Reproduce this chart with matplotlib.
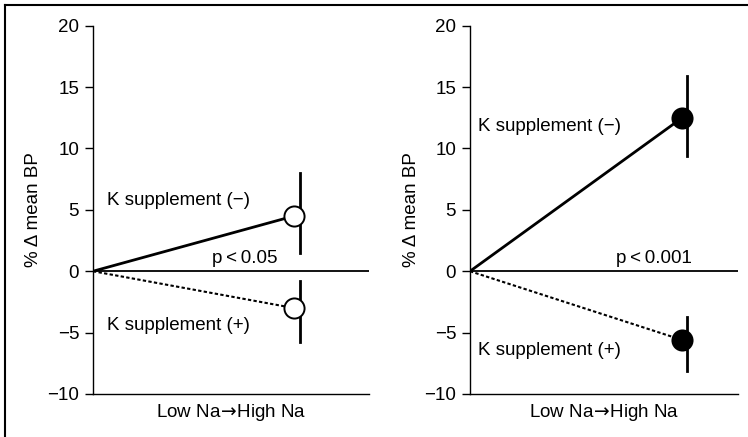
import matplotlib
matplotlib.use("Agg")
import matplotlib.pyplot as plt
from matplotlib.lines import Line2D

plt.rcParams['font.family'] = ['Liberation Sans', 'DejaVu Sans']
plt.rcParams['mathtext.fontset'] = 'dejavusans'

# Data
x_points = [0, 1]  # Low Na -> High Na
yticks = [-10, -5, 0, 5, 10, 15, 20]

# Left panel (open circles)
left_minus = [0, 4.5]
left_minus_err = (1.45, 8.0)   # lower, upper ends of bar
left_plus = [0, -3.0]
left_plus_err = (-5.8, -0.8)
left_p = "p\u2009<\u20090.05"

# Right panel (filled circles)
right_minus = [0, 12.5]
right_minus_err = (9.4, 15.9)
right_plus = [0, -5.6]
right_plus_err = (-8.1, -3.7)
right_p = "p\u2009<\u20090.001"

label_minus = "K supplement (\u2212)"
label_plus = "K supplement (+)"
xlabel = r"Low Na$\!\rightarrow\!$High Na"
ylabel = "% \u0394 mean BP"

W, H = 748, 437
fig = plt.figure(figsize=(W / 100, H / 100), dpi=100)

FS = 13.5


def panel(rect, xmax, minus, minus_err, plus, plus_err, face, ptext, ptx,
          tx, ty_minus, ty_plus, ebx, ylab_x):
    ax = fig.add_axes(rect)
    ax.set_xlim(0, xmax)
    ax.set_ylim(-10, 20)
    ax.set_yticks(yticks)
    ax.set_xticks([])
    for s in ['top', 'right']:
        ax.spines[s].set_visible(False)
    for s in ['left', 'bottom']:
        ax.spines[s].set_linewidth(1.0)
    ax.tick_params(axis='y', direction='out', length=6, width=1.0,
                   labelsize=FS, pad=4)
    ax.axhline(0, color='black', lw=1.3, zorder=1)
    # error bars (slightly right of markers)
    ax.plot([x_points[1] + ebx] * 2, list(minus_err), color='black', lw=2.0, zorder=2)
    ax.plot([x_points[1] + ebx] * 2, list(plus_err), color='black', lw=2.0, zorder=2)
    ax.plot(x_points, minus, color='black', lw=2.0, solid_capstyle='butt', zorder=3)
    ax.plot(x_points, plus, color='black', lw=1.5, linestyle=(0, (1.6, 1.1)), zorder=3)
    ax.plot([x_points[1]], [minus[1]], 'o', ms=14.5, mfc=face, mec='black', mew=1.4, zorder=4)
    ax.plot([x_points[1]], [plus[1]], 'o', ms=14.5, mfc=face, mec='black', mew=1.4, zorder=4)
    ax.text(tx, ty_minus, label_minus, fontsize=FS, va='center', ha='left')
    ax.text(tx, ty_plus, label_plus, fontsize=FS, va='center', ha='left')
    ax.text(ptx, 1.0, ptext, fontsize=FS, va='center', ha='center')
    ax.set_xlabel(xlabel, fontsize=FS, labelpad=6)
    ax.set_ylabel(ylabel, fontsize=FS)
    ax.yaxis.set_label_coords(ylab_x, 0.5)
    return ax


bottom = (H - 394) / H
top = (H - 25.7) / H
height = top - bottom

panel([93 / W, bottom, 276 / W, height], 1.373, left_minus, left_minus_err,
      left_plus, left_plus_err, 'white', left_p, 0.754, 0.07, 5.8, -4.4, 0.03,
      -51 / 276)
panel([470 / W, bottom, 268 / W, height], 1.263, right_minus, right_minus_err,
      right_plus, right_plus_err, 'black', right_p, 0.865, 0.038, 11.8, -6.45, 0.025,
      -50 / 268)

# frame lines (top and left)
fig.add_artist(Line2D([5 / W, 1], [1 - 5 / H, 1 - 5 / H], color='black', lw=1.5,
                      transform=fig.transFigure))
fig.add_artist(Line2D([5 / W, 5 / W], [0, 1 - 5 / H], color='black', lw=1.5,
                      transform=fig.transFigure))

fig.savefig("out.png", dpi=100)
